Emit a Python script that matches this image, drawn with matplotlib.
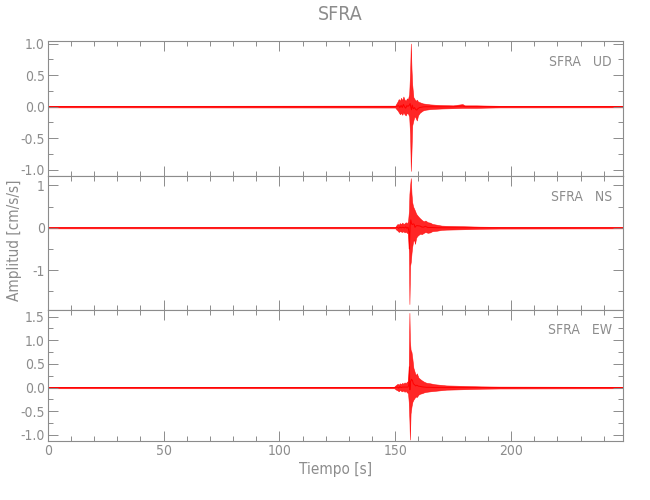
import matplotlib
matplotlib.use("Agg")
import matplotlib.pyplot as plt
from matplotlib.ticker import MultipleLocator, FuncFormatter

plt.rcParams['font.family'] = ['DejaVu Sans']
plt.rcParams['font.stretch'] = 'condensed'
plt.rcParams['font.weight'] = 'light'

GRAY = "#8c8c8c"
RED = "#ff0000"

station = "SFRA"
components = ["UD", "NS", "EW"]
t_end = 248.4

# envelope of each trace: time [s], upper and lower amplitude [cm/s/s]
t_ud = [0, 150.0, 150.5, 151.0, 151.5, 152.0, 152.5, 153.0, 153.5, 154.0, 154.5, 155.0,
        155.5, 156.0, 156.4, 156.7, 157.0, 157.3, 157.8, 158.3, 158.8, 159.3, 159.8,
        160.5, 161.2, 162.0, 163.0, 164.0, 165.0, 167.0, 170.0, 175.0, 179.0, 180.0,
        185.0, 190.0, 195.0, 248.4]
up_ud = [0.012, 0.015, 0.05, 0.08, 0.12, 0.09, 0.14, 0.10, 0.16, 0.11, 0.09, 0.13,
         0.12, 0.20, 0.55, 1.00, 0.60, 0.35, 0.15, 0.12, 0.09, 0.11, 0.08,
         0.07, 0.06, 0.05, 0.045, 0.04, 0.035, 0.03, 0.025, 0.02, 0.04, 0.02,
         0.02, 0.016, 0.013, 0.012]
lo_ud = [-0.012, -0.015, -0.04, -0.06, -0.09, -0.12, -0.10, -0.13, -0.09, -0.12, -0.14, -0.10,
         -0.11, -0.16, -0.45, -1.02, -0.70, -0.30, -0.22, -0.15, -0.18, -0.22, -0.14,
         -0.10, -0.08, -0.06, -0.05, -0.045, -0.04, -0.035, -0.03, -0.025, -0.02, -0.02,
         -0.02, -0.016, -0.013, -0.012]

t_ns = [0, 150.0, 150.5, 151.0, 151.5, 152.0, 152.5, 153.0, 153.5, 154.0, 154.5, 155.0,
        155.5, 155.9, 156.1, 156.4, 156.7, 157.0, 157.3, 157.7, 158.1, 158.5, 159.0,
        159.4, 160.0, 160.7, 161.5, 162.3, 163.0, 164.0, 165.0, 166.0, 168.0, 170.0,
        172.0, 176.0, 180.0, 186.5, 195.0, 248.4]
up_ns = [0.015, 0.015, 0.06, 0.09, 0.07, 0.11, 0.08, 0.12, 0.09, 0.10, 0.13, 0.10,
         0.15, 0.40, 0.80, 1.00, 1.17, 0.80, 0.60, 0.50, 0.45, 0.40, 0.33,
         0.30, 0.26, 0.22, 0.18, 0.15, 0.17, 0.13, 0.12, 0.09, 0.07, 0.05,
         0.045, 0.04, 0.035, 0.025, 0.02, 0.015]
lo_ns = [-0.015, -0.015, -0.05, -0.07, -0.10, -0.08, -0.09, -0.10, -0.08, -0.11, -0.09, -0.12,
         -0.13, -0.60, -1.80, -0.90, -0.80, -0.60, -0.45, -0.32, -0.28, -0.38, -0.24,
         -0.20, -0.17, -0.14, -0.15, -0.12, -0.10, -0.12, -0.11, -0.08, -0.07, -0.05,
         -0.045, -0.04, -0.035, -0.025, -0.02, -0.015]

t_ew = [0, 149.5, 150.0, 150.5, 151.0, 151.5, 152.0, 152.5, 153.0, 153.5, 154.0, 154.5,
        155.0, 155.5, 155.8, 156.1, 156.3, 156.6, 157.0, 157.4, 157.8, 158.3, 158.8,
        159.3, 160.0, 160.7, 161.5, 162.5, 163.5, 165.0, 167.0, 169.0, 172.0, 176.0,
        179.5, 183.0, 187.0, 195.0, 248.4]
up_ew = [0.015, 0.015, 0.04, 0.06, 0.08, 0.06, 0.09, 0.07, 0.10, 0.08, 0.11, 0.09,
         0.12, 0.14, 0.40, 1.58, 1.00, 0.80, 0.75, 0.60, 0.42, 0.34, 0.26,
         0.30, 0.21, 0.18, 0.15, 0.12, 0.10, 0.09, 0.07, 0.06, 0.045, 0.04,
         0.035, 0.03, 0.025, 0.02, 0.015]
lo_ew = [-0.015, -0.015, -0.03, -0.05, -0.06, -0.08, -0.05, -0.07, -0.08, -0.06, -0.09, -0.07,
         -0.10, -0.12, -0.30, -0.70, -1.10, -0.55, -0.40, -0.30, -0.26, -0.22, -0.19,
         -0.20, -0.15, -0.13, -0.12, -0.10, -0.09, -0.08, -0.07, -0.06, -0.045, -0.04,
         -0.035, -0.03, -0.025, -0.02, -0.015]

traces = [(t_ud, up_ud, lo_ud), (t_ns, up_ns, lo_ns), (t_ew, up_ew, lo_ew)]
ylims = [(-1.10, 1.04), (-1.94, 1.22), (-1.13, 1.64)]
ymajor = [0.5, 1.0, 0.5]
yminor = [0.25, 0.5, 0.25]


def idl_fmt(step):
    def f(v, pos):
        return "%.1f" % v if step < 1 else "%d" % round(v)
    return FuncFormatter(f)


fig = plt.figure(figsize=(6.5, 5.0), dpi=100)
left, right = 47.7 / 650, 623.3 / 650
edges = [41, 176, 310, 441]

axes = []
for i in range(3):
    y0 = 1 - edges[i + 1] / 500
    h = (edges[i + 1] - edges[i]) / 500
    ax = fig.add_axes([left, y0, right - left, h])
    axes.append(ax)
    t, up, lo = traces[i]
    ax.fill_between(t, lo, up, color=RED, lw=0.4, alpha=0.85)
    ax.plot(t, [0.5 * (a + b) for a, b in zip(up, lo)], color=RED, lw=0.7)
    ax.set_xlim(0, t_end)
    ax.set_ylim(*ylims[i])
    ax.xaxis.set_major_locator(MultipleLocator(50))
    ax.xaxis.set_minor_locator(MultipleLocator(10))
    ax.yaxis.set_major_locator(MultipleLocator(ymajor[i]))
    ax.yaxis.set_minor_locator(MultipleLocator(yminor[i]))
    ax.yaxis.set_major_formatter(idl_fmt(ymajor[i]))
    ax.tick_params(which="both", direction="in", top=True, right=True,
                   color=GRAY, labelcolor=GRAY, labelsize=10, width=0.7)
    ax.tick_params(which="major", length=7.2, pad=2)
    ax.tick_params(which="minor", length=3.6)
    for sp in ax.spines.values():
        sp.set_color(GRAY)
        sp.set_linewidth(0.8)
    ax.text(0.98, 0.845, "%s   %s" % (station, components[i]), transform=ax.transAxes,
            ha="right", va="center", color=GRAY, fontsize=10)
    if i < 2:
        ax.tick_params(labelbottom=False)

axes[2].set_xlabel("Tiempo [s]", color=GRAY, fontsize=11, labelpad=3)
fig.text(15 / 650, 1 - 240 / 500, "Amplitud [cm/s/s]", rotation=90, ha="center",
         va="center", color=GRAY, fontsize=11)
fig.text(340 / 650, 1 - 14 / 500, station, ha="center", va="center",
         color=GRAY, fontsize=14)

fig.savefig("out.png", dpi=100)
